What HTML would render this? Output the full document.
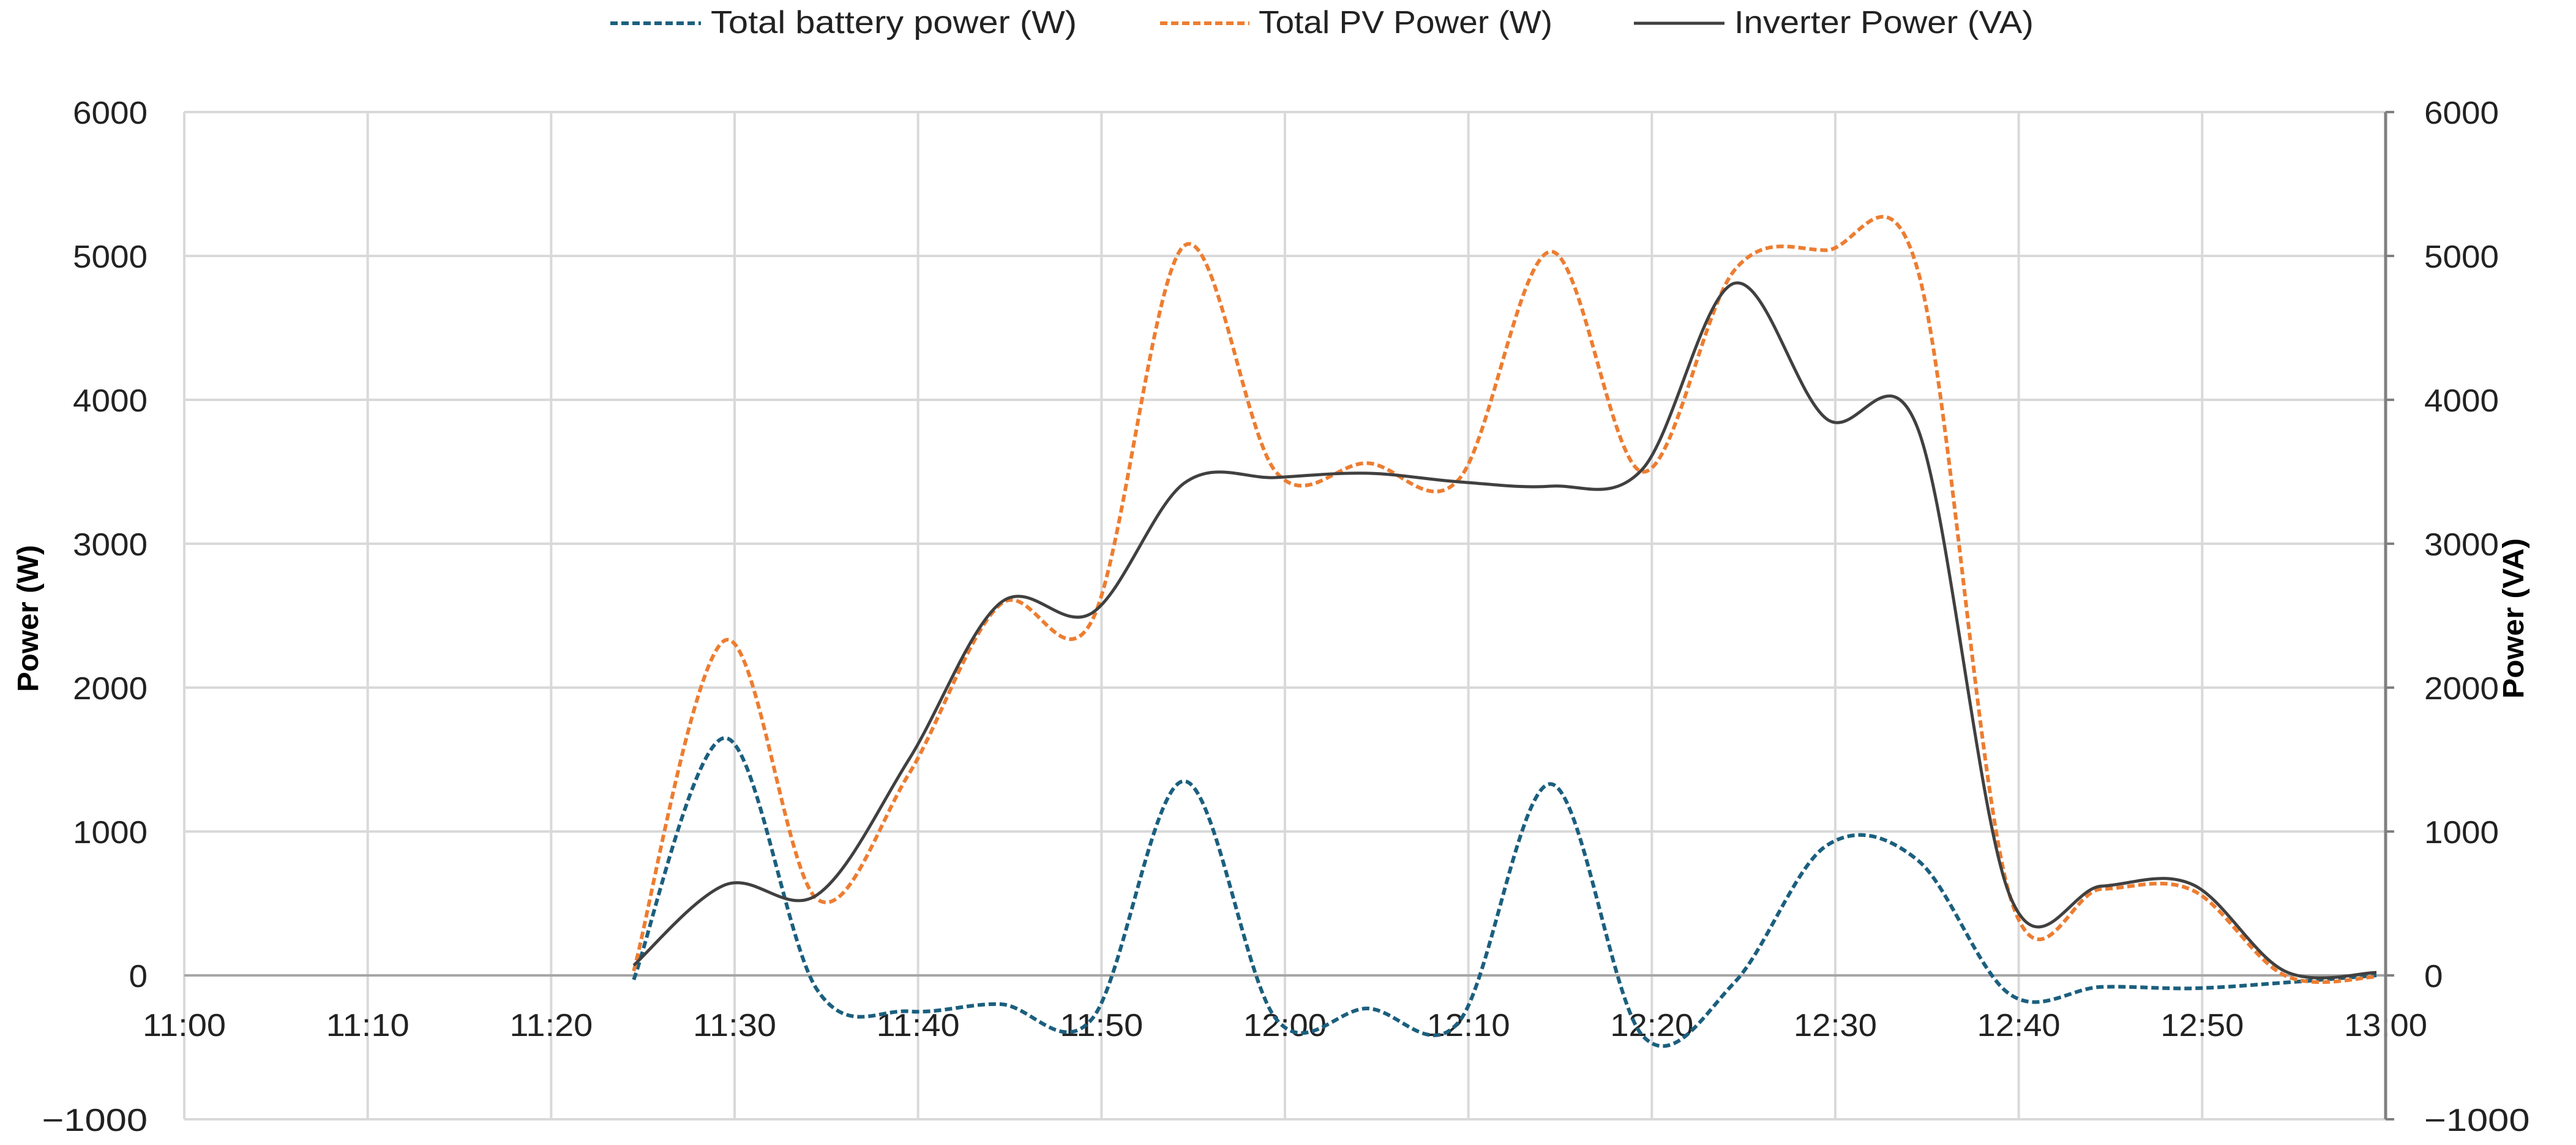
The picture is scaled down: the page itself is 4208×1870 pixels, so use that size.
<!DOCTYPE html>
<html><head><meta charset="utf-8"><style>
html,body{margin:0;padding:0;background:#fff;}
svg{display:block;font-family:"Liberation Sans",sans-serif;}
</style></head><body>
<svg id="chart" width="4208" height="1870" viewBox="0 0 4208 1870" xmlns="http://www.w3.org/2000/svg">
<g id="grid"></g>
<g id="axes"></g>
<g id="series"></g>
<g id="legend">
  <line x1="997" y1="38" x2="1145" y2="38" stroke="#1b5f7e" stroke-width="6" stroke-dasharray="12,6"/>
  <text x="1161" y="54" font-size="52" fill="#222" textLength="598" lengthAdjust="spacingAndGlyphs">Total battery power (W)</text>
  <line x1="1895" y1="38" x2="2041" y2="38" stroke="#ed7d31" stroke-width="6" stroke-dasharray="12,6"/>
  <text x="2056" y="54" font-size="52" fill="#222" textLength="480" lengthAdjust="spacingAndGlyphs">Total PV Power (W)</text>
  <line x1="2669" y1="38" x2="2817" y2="38" stroke="#404040" stroke-width="5"/>
  <text x="2833" y="54" font-size="52" fill="#222" textLength="489" lengthAdjust="spacingAndGlyphs">Inverter Power (VA)</text>
</g>
<text transform="translate(62,1010) rotate(-90)" text-anchor="middle" font-size="48" font-weight="bold" fill="#000" textLength="240" lengthAdjust="spacingAndGlyphs">Power (W)</text>
<text transform="translate(4122,1010) rotate(-90)" text-anchor="middle" font-size="48" font-weight="bold" fill="#000" textLength="262" lengthAdjust="spacingAndGlyphs">Power (VA)</text>
</svg>
<script>
const times = [24.5,29.5,34.5,39.5,44.5,49.5,54.5,59.5,64.5,69.5,74.5,79.5,84.5,89.5,94.5,99.5,104.5,109.5,114.5,119.5];
const battery = [-30,1650,-100,-250,-200,-300,1350,-300,-230,-320,1330,-420,-50,900,800,-130,-80,-90,-50,0];
const pv = [30,2330,530,1400,2580,2470,5070,3500,3560,3450,5030,3500,4900,5040,4900,560,600,590,0,-10];
const inverter = [70,630,560,1500,2590,2520,3420,3460,3490,3430,3400,3520,4810,3870,3800,560,620,630,30,20];
const yTicks = [6000,5000,4000,3000,2000,1000,0,-1000];
const yTickLabels = ["6000","5000","4000","3000","2000","1000","0","\u22121000"];
const xTicks = [0,10,20,30,40,50,60,70,80,90,100,110,120];
const xTickLabels = ["11:00","11:10","11:20","11:30","11:40","11:50","12:00","12:10","12:20","12:30","12:40","12:50","13:00"];

const X0=301, X1=3897, Y6000=183, Ym1000=1828;
const xs = m => X0 + (m/120)*(X1-X0);
const ys = v => Y6000 + (6000-v)/7000*(Ym1000-Y6000);
const NS="http://www.w3.org/2000/svg";
function mk(tag, parent, attrs){const e=document.createElementNS(NS,tag);for(const k in attrs)e.setAttribute(k,attrs[k]);parent.appendChild(e);return e;}
const grid=document.getElementById('grid'), axes=document.getElementById('axes'), series=document.getElementById('series');

yTicks.forEach((v,i)=>{
  const l=mk('line',grid,{x1:X0,x2:X1,y1:ys(v),y2:ys(v),stroke:'#d9d9d9','stroke-width':4});
  
  
  const lab=yTickLabels[i];
  const w=lab.length*30.5+(lab.charAt(0)==='\u2212'?20:0);
  const t=mk('text',axes,{x:241-w,y:ys(v)+19,'font-size':52,fill:'#222',textLength:w,lengthAdjust:'spacingAndGlyphs'});
  t.textContent=lab;
  
  
  const t2=mk('text',axes,{x:3960,y:ys(v)+19,'font-size':52,fill:'#222',textLength:w,lengthAdjust:'spacingAndGlyphs'});
  t2.textContent=lab;
  
  
});
xTicks.forEach((m,i)=>{
  if(i<xTicks.length-1){
  const l=mk('line',grid,{x1:xs(m),x2:xs(m),y1:Y6000,y2:Ym1000,stroke:'#d9d9d9','stroke-width':4});
  
  }
  const t=mk('text',axes,{x:xs(m)-68,y:1692,'font-size':52,fill:'#222',textLength:136,lengthAdjust:'spacingAndGlyphs'});
  t.textContent=xTickLabels[i];
  
  
});
const za=mk('line',axes,{x1:X0,x2:X1+14,y1:ys(0),y2:ys(0),stroke:'#a6a6a6','stroke-width':4});


const ra=mk('line',axes,{x1:X1,x2:X1,y1:Y6000,y2:Ym1000,stroke:'#808080','stroke-width':5});


yTicks.forEach(v=>{
  const tk=mk('line',axes,{x1:X1,x2:X1+14,y1:ys(v),y2:ys(v),stroke:'#808080','stroke-width':4});
  
  
});

function pathFor(vals){
  const p=vals.map((v,i)=>[xs(times[i]),ys(v)]);
  let d=`M${p[0][0]},${p[0][1]}`;
  for(let i=0;i<p.length-1;i++){
    const p0=p[i-1]||p[i],p1=p[i],p2=p[i+1],p3=p[i+2]||p[i+1];
    const c1=[p1[0]+(p2[0]-p0[0])/6,p1[1]+(p2[1]-p0[1])/6];
    const c2=[p2[0]-(p3[0]-p1[0])/6,p2[1]-(p3[1]-p1[1])/6];
    d+=` C${c1[0]},${c1[1]} ${c2[0]},${c2[1]} ${p2[0]},${p2[1]}`;
  }
  return d;
}
const lb=mk('path',series,{d:pathFor(battery),fill:'none',stroke:'#1b5f7e','stroke-width':6,'stroke-dasharray':'12,6'});


const lp=mk('path',series,{d:pathFor(pv),fill:'none',stroke:'#ed7d31','stroke-width':6,'stroke-dasharray':'12,6'});


const li=mk('path',series,{d:pathFor(inverter),fill:'none',stroke:'#404040','stroke-width':5});


</script>
</body></html>
